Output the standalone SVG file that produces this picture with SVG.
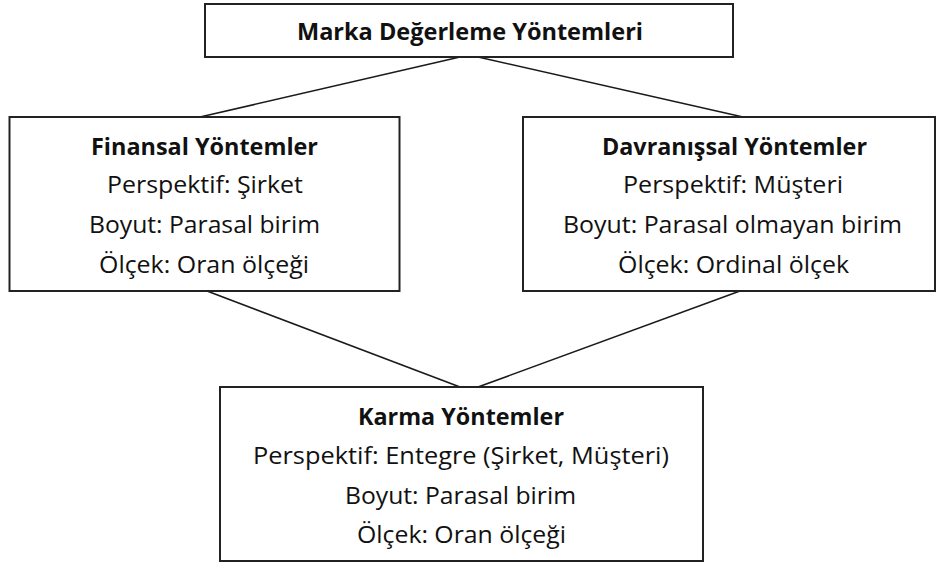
<svg xmlns="http://www.w3.org/2000/svg" width="937" height="566" viewBox="0 0 937 566">
<style>
.box{fill:#fff;stroke:#222;stroke-width:2}
.ln{stroke:#1a1a1a;stroke-width:1.6;fill:none}
text{font-family:"Open Sans","Noto Sans","Liberation Sans",sans-serif;font-size:23px;fill:#111;text-anchor:middle}
.b{font-weight:bold}
</style>
<rect width="937" height="566" fill="#fff"/>
<g id="connectors">
<line class="ln" x1="460" y1="57" x2="200" y2="117"/>
<line class="ln" x1="478" y1="57" x2="743" y2="117"/>
<line class="ln" x1="207" y1="291" x2="460" y2="387"/>
<line class="ln" x1="740" y1="291" x2="478" y2="387"/>
</g>
<g id="marka">
<rect class="box" x="205" y="4" width="528" height="53"/>
<text class="b" x="470" y="40" textLength="346" lengthAdjust="spacingAndGlyphs">Marka Değerleme Yöntemleri</text>
</g>
<g id="finansal">
<rect class="box" x="9.5" y="117" width="390" height="174"/>
<text class="b" x="204.5" y="155" textLength="227" lengthAdjust="spacingAndGlyphs">Finansal Yöntemler</text>
<text x="205" y="193" textLength="196" lengthAdjust="spacingAndGlyphs">Perspektif: Şirket</text>
<text x="204.5" y="233" textLength="231" lengthAdjust="spacingAndGlyphs">Boyut: Parasal birim</text>
<text x="204" y="273" textLength="210" lengthAdjust="spacingAndGlyphs">Ölçek: Oran ölçeği</text>
</g>
<g id="davranissal">
<rect class="box" x="523" y="117" width="412" height="174"/>
<text class="b" x="734.5" y="155" textLength="265" lengthAdjust="spacingAndGlyphs">Davranışsal Yöntemler</text>
<text x="733" y="193" textLength="220" lengthAdjust="spacingAndGlyphs">Perspektif: Müşteri</text>
<text x="732.5" y="233" textLength="339" lengthAdjust="spacingAndGlyphs">Boyut: Parasal olmayan birim</text>
<text x="733.5" y="273" textLength="231" lengthAdjust="spacingAndGlyphs">Ölçek: Ordinal ölçek</text>
</g>
<g id="karma">
<rect class="box" x="220" y="387" width="483" height="174"/>
<text class="b" x="461" y="425" textLength="206" lengthAdjust="spacingAndGlyphs">Karma Yöntemler</text>
<text x="461" y="464" textLength="416" lengthAdjust="spacingAndGlyphs">Perspektif: Entegre (Şirket, Müşteri)</text>
<text x="460.5" y="504" textLength="231" lengthAdjust="spacingAndGlyphs">Boyut: Parasal birim</text>
<text x="461.5" y="543" textLength="209" lengthAdjust="spacingAndGlyphs">Ölçek: Oran ölçeği</text>
</g>
</svg>
